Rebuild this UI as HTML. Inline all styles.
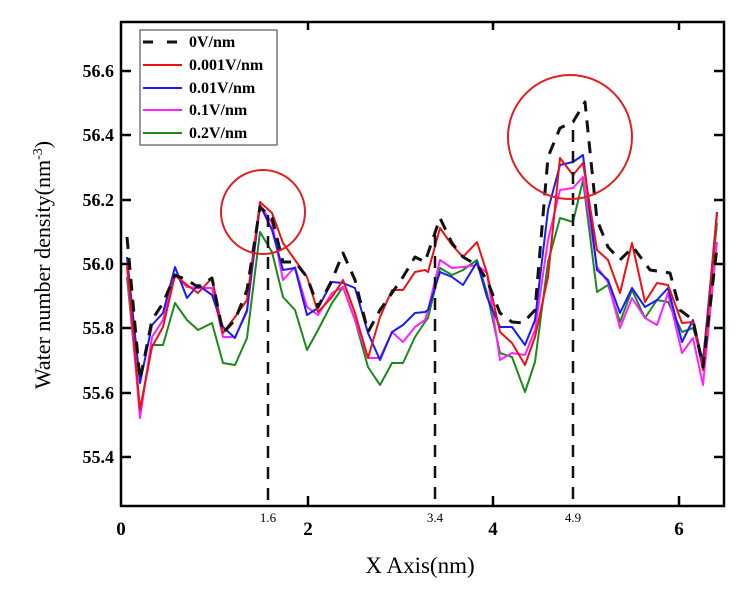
<!DOCTYPE html>
<html><head><meta charset="utf-8"><style>
body{margin:0;background:#fff}
svg{display:block}
text{font-family:"Liberation Serif",serif}
</style></head><body>
<svg width="756" height="591" viewBox="0 0 756 591" xmlns="http://www.w3.org/2000/svg">
<rect width="756" height="591" fill="#fff"/>
<g fill="none" stroke-width="2" stroke-linejoin="round">
<polyline stroke="#1a8a1a" points="127,277 140,410 152,345 163,345 175,303 187,320 198,330 212,323 223,363 235,365 247,338 260,232 272,252 283,297 295,310 307,350 318,330 332,303 343,287 355,320 368,367 380,385 392,363 403,363 415,337 425,322 428,318 440,268 452,275 463,270 477,260 487,293 500,353 512,357 525,392 535,362 548,262 560,218 573,222 583,180 597,292 608,285 620,322 632,290 645,318 657,300 668,302 682,332 693,328 703,360 717,223"/>
<polyline stroke="#ff22ff" points="127,267 140,418 152,337 163,320 175,275 187,287 198,288 212,288 223,337 235,337 247,312 260,205 272,223 283,280 295,267 307,307 318,315 332,293 343,287 355,320 368,358 380,358 392,332 403,342 415,327 425,320 428,310 440,260 452,268 463,267 477,265 487,273 500,360 512,353 525,355 535,330 548,240 560,190 573,188 583,177 597,267 608,282 620,328 632,298 645,318 657,325 668,293 682,353 693,338 703,385 717,242"/>
<polyline stroke="#1a1aff" points="127,257 140,383 152,325 163,313 175,267 187,298 198,285 212,295 223,327 235,338 247,310 260,205 272,230 283,270 295,268 307,315 318,308 332,282 343,283 355,288 368,333 380,360 392,332 403,325 415,313 425,312 428,310 440,272 452,277 463,285 477,262 487,297 500,327 512,327 525,345 535,320 548,210 560,165 573,162 583,155 597,270 608,280 620,313 632,288 645,307 657,300 668,288 682,342 693,320 703,363 717,212"/>
<polyline stroke="#ee1111" points="127,263 140,410 152,347 163,327 175,275 187,285 198,293 212,278 223,333 235,317 247,300 260,202 272,213 283,243 295,260 307,277 318,312 332,297 343,280 355,313 368,358 380,317 392,290 403,290 415,272 425,270 428,272 440,228 452,245 463,257 477,242 487,273 500,332 512,343 525,365 535,337 548,277 560,158 573,175 583,163 597,250 608,260 620,293 632,243 645,302 657,283 668,285 682,323 693,322 703,370 717,213"/>
<polyline stroke="#111" stroke-width="3" stroke-dasharray="12,9" points="127,237 140,380 152,320 163,303 175,275 187,280 198,287 212,278 223,333 235,320 247,290 260,207 272,218 283,262 295,262 307,277 318,307 332,280 343,253 355,280 368,332 380,310 392,293 403,277 415,257 425,262 440,218 452,243 463,257 477,265 487,280 500,313 512,322 523,323 535,310 548,157 560,128 573,122 585,102 597,220 608,247 620,260 633,247 650,270 670,273 680,310 693,320 703,367 717,247"/>
<g stroke="#111" stroke-width="2.5" stroke-dasharray="12,9">
<line x1="268" y1="215" x2="268" y2="506"/>
<line x1="435" y1="235" x2="435" y2="506"/>
<line x1="573" y1="130" x2="573" y2="506"/>
</g>
<circle cx="263" cy="212" r="42" stroke="#e02020"/>
<circle cx="570" cy="137" r="62" stroke="#e02020"/>
</g>
<g stroke="#000" stroke-width="2.5" fill="none">
<rect x="121" y="22" width="603" height="484"/>
<path d="M121,71h10M121,135h10M121,200h10M121,264h10M121,328h10M121,393h10M121,457h10M724,71h-10M724,135h-10M724,200h-10M724,264h-10M724,328h-10M724,393h-10M724,457h-10M308,506v-10M493,506v-10M679,506v-10M308,22v8M493,22v8M679,22v8"/>
</g>
<g font-size="18" font-weight="bold" text-anchor="end">
<text x="114" y="77">56.6</text><text x="114" y="141">56.4</text><text x="114" y="206">56.2</text><text x="114" y="270">56.0</text><text x="114" y="334">55.8</text><text x="114" y="399">55.6</text><text x="114" y="463">55.4</text>
</g>
<g font-size="19" font-weight="bold" text-anchor="middle">
<text x="121" y="535">0</text><text x="308" y="535">2</text><text x="493" y="535">4</text><text x="679" y="535">6</text>
</g>
<g font-size="13" text-anchor="middle">
<text x="268" y="522">1.6</text><text x="435" y="522">3.4</text><text x="573" y="522">4.9</text>
</g>
<text x="420" y="573" font-size="23" text-anchor="middle">X Axis(nm)</text>
<text transform="translate(50,265) rotate(-90)" font-size="22" text-anchor="middle">Water number density(nm<tspan font-size="14" dy="-8">-3</tspan><tspan dy="8">)</tspan></text>
<rect x="140" y="30" width="137" height="115" fill="#fff" stroke="#555" stroke-width="1.2"/>
<g stroke-width="2">
<line x1="143" y1="42" x2="182" y2="42" stroke="#111" stroke-width="3" stroke-dasharray="10,14"/>
<line x1="143" y1="65" x2="182" y2="65" stroke="#ee1111"/>
<line x1="143" y1="88" x2="182" y2="88" stroke="#1a1aff"/>
<line x1="143" y1="110" x2="182" y2="110" stroke="#ff22ff"/>
<line x1="143" y1="133" x2="182" y2="133" stroke="#1a8a1a"/>
</g>
<g font-size="16" font-weight="bold">
<text x="189" y="47">0V/nm</text><text x="189" y="70">0.001V/nm</text><text x="189" y="93">0.01V/nm</text><text x="189" y="115">0.1V/nm</text><text x="189" y="138">0.2V/nm</text>
</g>
</svg>
</body></html>
